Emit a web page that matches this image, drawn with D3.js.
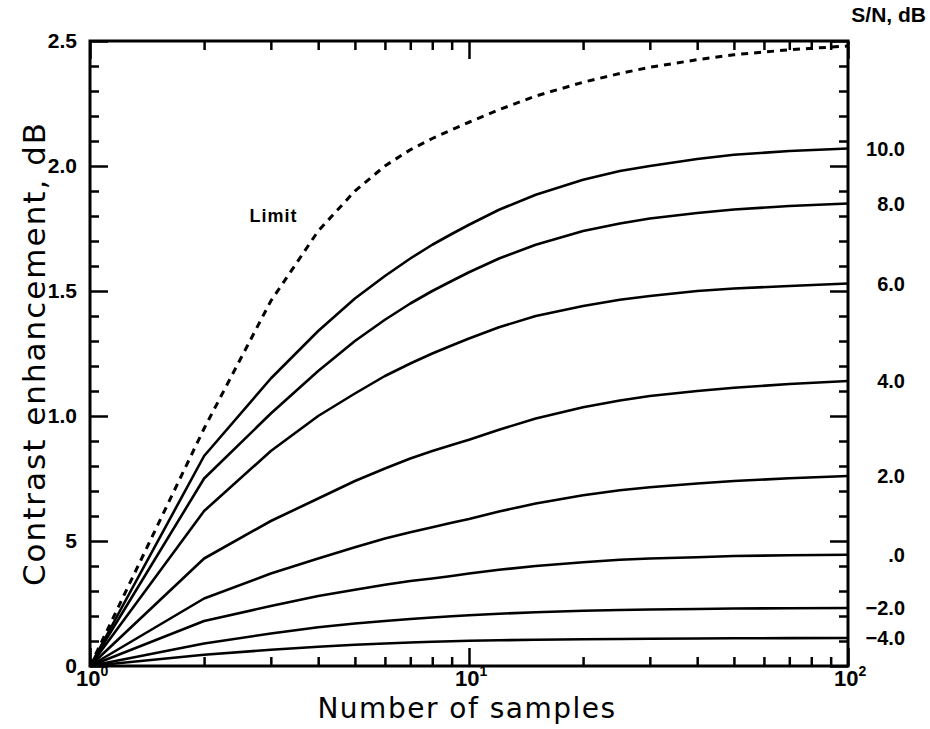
<!DOCTYPE html>
<html>
<head>
<meta charset="utf-8">
<script src="https://cdn.jsdelivr.net/npm/d3@7"></script>
<style>
  body { margin: 0; background: #fff; }
  svg { display: block; }
</style>
</head>
<body>
<div id="chart"></div>
<script>
// number of samples (x values shared by every curve)
var samples = [1, 2, 3, 4, 5, 6, 7, 8, 9, 10, 12, 15, 20, 25, 30, 40, 50, 70, 100];

// limit curve (dashed)
var limitValues = [0, 0.95, 1.46, 1.74, 1.90, 2.00, 2.065, 2.11, 2.145, 2.175, 2.225, 2.28, 2.335, 2.37, 2.395, 2.425, 2.445, 2.465, 2.48];

// contrast enhancement for each S/N, dB
var snLabels = ["10.0", "8.0", "6.0", "4.0", "2.0", ".0", "\u22122.0", "\u22124.0"];
var sn10 = [0, 0.84, 1.15, 1.34, 1.47, 1.56, 1.63, 1.685, 1.728, 1.765, 1.825, 1.885, 1.945, 1.98, 2.00, 2.028, 2.045, 2.06, 2.07];
var sn8 = [0, 0.75, 1.01, 1.18, 1.30, 1.385, 1.45, 1.50, 1.54, 1.575, 1.63, 1.685, 1.74, 1.77, 1.79, 1.812, 1.826, 1.84, 1.85];
var sn6 = [0, 0.62, 0.86, 1.00, 1.09, 1.16, 1.21, 1.25, 1.282, 1.31, 1.355, 1.40, 1.44, 1.465, 1.48, 1.50, 1.51, 1.52, 1.53];
var sn4 = [0, 0.43, 0.58, 0.67, 0.74, 0.79, 0.83, 0.86, 0.884, 0.905, 0.945, 0.99, 1.035, 1.062, 1.08, 1.10, 1.113, 1.128, 1.14];
var sn2 = [0, 0.27, 0.37, 0.43, 0.475, 0.51, 0.535, 0.555, 0.573, 0.588, 0.618, 0.65, 0.683, 0.703, 0.715, 0.73, 0.74, 0.751, 0.76];
var sn0 = [0, 0.18, 0.24, 0.28, 0.305, 0.325, 0.34, 0.35, 0.36, 0.37, 0.385, 0.40, 0.415, 0.425, 0.43, 0.435, 0.44, 0.443, 0.445];
var snM2 = [0, 0.09, 0.13, 0.155, 0.17, 0.18, 0.188, 0.194, 0.199, 0.203, 0.209, 0.215, 0.221, 0.224, 0.226, 0.228, 0.23, 0.231, 0.232];
var snM4 = [0, 0.045, 0.065, 0.077, 0.085, 0.09, 0.094, 0.097, 0.099, 0.101, 0.103, 0.105, 0.107, 0.108, 0.109, 0.11, 0.111, 0.1115, 0.112];
var snSeries = [sn10, sn8, sn6, sn4, sn2, sn0, snM2, snM4];

// tick values / labels
var yMajorTicks = [0, 0.5, 1.0, 1.5, 2.0, 2.5];
var yTickLabels = ["0", "5", "1.0", "1.5", "2.0", "2.5"];
var yMinorTicks = d3.range(1, 25).filter(d => d % 5 !== 0).map(d => d / 10);
var xMajorTicks = [1, 10, 100];
var xTickExponents = ["0", "1", "2"];
var xMinorTicks = [2, 3, 4, 5, 6, 7, 8, 9, 20, 30, 40, 50, 60, 70, 80, 90];

var svgWidth = 930;
var svgHeight = 729;

var margin = {
  top: 41,
  right: 82,
  bottom: 63,
  left: 90
};

var width = svgWidth - margin.left - margin.right;
var height = svgHeight - margin.top - margin.bottom;

var svg = d3
  .select("#chart")
  .append("svg")
  .attr("width", svgWidth)
  .attr("height", svgHeight);

var chartGroup = svg.append("g")
  .attr("transform", `translate(${margin.left}, ${margin.top})`);

// scales
var xScale = d3.scaleLog()
  .domain([1, 100])
  .range([0, width]);

var yScale = d3.scaleLinear()
  .domain([0, 2.5])
  .range([height, 0]);

var majorLen = 18;
var minorLen = 9;
var labelFont = "'Liberation Sans', Arial, sans-serif";

// axes with ticks pointing inward
function addAxis(axis, transform) {
  var g = chartGroup.append("g")
    .attr("transform", transform)
    .call(axis);
  g.select(".domain").remove();
  g.selectAll(".tick line").attr("stroke", "#000").attr("stroke-width", 2.5);
  g.selectAll("text")
    .attr("fill", "#000")
    .style("font-family", labelFont)
    .style("font-weight", "bold")
    .style("font-size", "21px");
  return g;
}

// left
addAxis(d3.axisLeft(yScale).tickValues(yMinorTicks).tickSize(-minorLen).tickFormat(""), "translate(0,0)");
addAxis(d3.axisLeft(yScale).tickValues(yMajorTicks).tickSize(-majorLen).tickPadding(13)
  .tickFormat((d, i) => yTickLabels[i]), "translate(0,0)");
// right
addAxis(d3.axisRight(yScale).tickValues(yMinorTicks).tickSize(-minorLen).tickFormat(""), `translate(${width},0)`);
addAxis(d3.axisRight(yScale).tickValues(yMajorTicks).tickSize(-majorLen).tickFormat(""), `translate(${width},0)`);
// bottom
addAxis(d3.axisBottom(xScale).tickValues(xMinorTicks).tickSize(-minorLen).tickFormat(""), `translate(0,${height})`);
addAxis(d3.axisBottom(xScale).tickValues(xMajorTicks).tickSize(-majorLen).tickFormat(""), `translate(0,${height})`);
// top
addAxis(d3.axisTop(xScale).tickValues(xMinorTicks).tickSize(-minorLen).tickFormat(""), "translate(0,0)");
addAxis(d3.axisTop(xScale).tickValues(xMajorTicks).tickSize(-majorLen).tickFormat(""), "translate(0,0)");

// frame
chartGroup.append("rect")
  .attr("x", 0)
  .attr("y", 0)
  .attr("width", width)
  .attr("height", height)
  .attr("fill", "none")
  .attr("stroke", "#000")
  .attr("stroke-width", 3);

// x tick labels 10^n
var xLabels = chartGroup.append("g")
  .style("font-family", labelFont)
  .style("font-weight", "bold");

xMajorTicks.forEach(function(d, i) {
  var t = xLabels.append("text")
    .attr("x", xScale(d) - 14)
    .attr("y", height + 20)
    .attr("text-anchor", "start")
    .style("font-size", "22px")
    .text("10");
  t.append("tspan")
    .attr("dy", -10)
    .style("font-size", "14px")
    .text(xTickExponents[i]);
});

// curves
var line = d3.line()
  .x((d, i) => xScale(samples[i]))
  .y(d => yScale(d));

chartGroup.selectAll(".sn-line")
  .data(snSeries)
  .enter()
  .append("path")
  .attr("class", "sn-line")
  .attr("d", line)
  .attr("fill", "none")
  .attr("stroke", "#000")
  .attr("stroke-width", 2.6)
  .attr("stroke-linejoin", "round");

chartGroup.append("path")
  .datum(limitValues)
  .attr("d", line)
  .attr("fill", "none")
  .attr("stroke", "#000")
  .attr("stroke-width", 3)
  .attr("stroke-dasharray", "7,6");

// S/N labels at the right end of each curve
chartGroup.selectAll(".sn-label")
  .data(snSeries)
  .enter()
  .append("text")
  .attr("class", "sn-label")
  .attr("x", width + 57)
  .attr("y", d => yScale(d[d.length - 1]))
  .attr("dy", "0.35em")
  .attr("text-anchor", "end")
  .style("font-family", labelFont)
  .style("font-weight", "bold")
  .style("font-size", "20px")
  .text((d, i) => snLabels[i]);

chartGroup.append("text")
  .attr("x", width + 78)
  .attr("y", -19)
  .attr("text-anchor", "end")
  .style("font-family", labelFont)
  .style("font-weight", "bold")
  .style("font-size", "21px")
  .text("S/N, dB");

chartGroup.append("text")
  .attr("x", xScale(3.05))
  .attr("y", yScale(1.8))
  .attr("dy", "0.35em")
  .attr("text-anchor", "middle")
  .style("font-family", labelFont)
  .style("font-weight", "bold")
  .style("font-size", "18px")
  .style("letter-spacing", "1px")
  .text("Limit");

// axis titles
svg.append("text")
  .attr("transform", `translate(45, ${margin.top + height / 2}) rotate(-90)`)
  .attr("text-anchor", "middle")
  .style("font-family", "'DejaVu Sans', sans-serif")
  .style("font-size", "31px")
  .style("letter-spacing", "2px")
  .text("Contrast enhancement, dB");

svg.append("text")
  .attr("x", margin.left + xScale(10) - 2)
  .attr("y", 718)
  .attr("text-anchor", "middle")
  .style("font-family", "'DejaVu Sans', sans-serif")
  .style("font-size", "28px")
  .style("letter-spacing", "1.5px")
  .text("Number of samples");
</script>
</body>
</html>
